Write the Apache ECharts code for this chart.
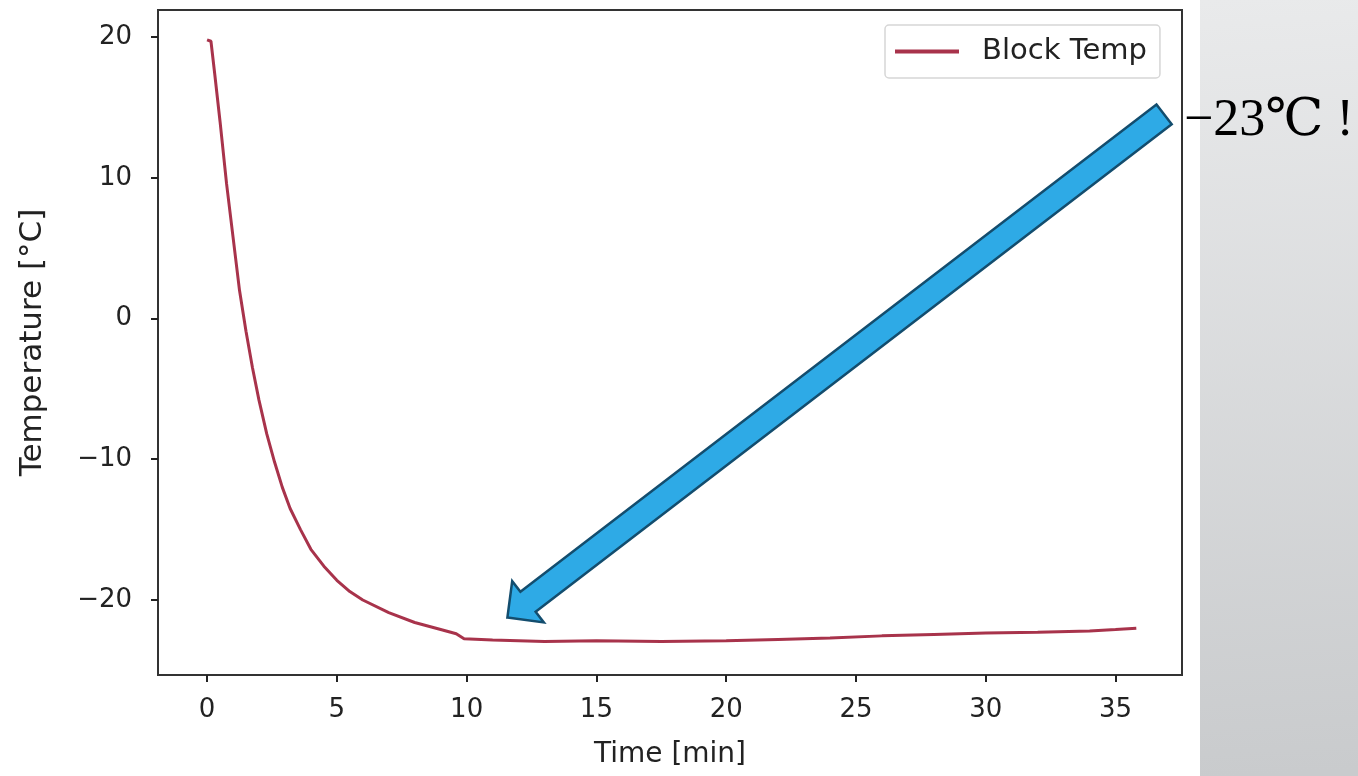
<!DOCTYPE html>
<html>
<head>
<meta charset="utf-8">
<script src="https://cdn.jsdelivr.net/npm/echarts@6/dist/echarts.min.js"></script>
<style>
  html, body { margin: 0; padding: 0; background: #fff; }
  #chart { width: 1358px; height: 776px; }
</style>
</head>
<body>
<div id="chart"></div>
<script>
// block temperature over time
const times = [0, 0.15, 0.3, 0.5, 0.75, 1.0, 1.25, 1.5, 1.75, 2.0, 2.3, 2.6, 2.9, 3.2, 3.6, 4.0, 4.5, 5.0, 5.5, 6.0, 7.0, 8.0, 9.0, 9.6, 9.9, 11.0, 13.0, 15.0, 17.5, 20.0, 22.0, 24.0, 26.0, 28.0, 30.0, 32.0, 34.0, 35.0, 35.8]
const temps = [19.8, 19.7, 17.3, 14.0, 9.6, 5.8, 2.0, -0.9, -3.5, -5.8, -8.2, -10.2, -12.0, -13.5, -15.0, -16.4, -17.6, -18.6, -19.4, -20.0, -20.9, -21.6, -22.1, -22.4, -22.75, -22.85, -22.95, -22.9, -22.95, -22.9, -22.8, -22.7, -22.55, -22.45, -22.35, -22.3, -22.2, -22.1, -22.0]

const xTicks = [0, 5, 10, 15, 20, 25, 30, 35]
const yTicks = [-20, -10, 0, 10, 20]
const xRange = [-1.89, 37.56]
const yRange = [-25.33, 21.92]

// annotation arrow, in data units (tip -> tail)
const arrowTip = [11.57, -21.25]
const arrowTail = [36.87, 14.5]
const calloutText = '\u221223\u2103 !'

const font = "'DejaVu Sans', sans-serif"
const fmt = v => (v < 0 ? '\u2212' + Math.abs(v) : String(v))

const chart = echarts.init(document.getElementById('chart'))

const option = {
  animation: false,
  backgroundColor: '#ffffff',
  grid: {
    left: 158, top: 10, right: 176, bottom: 101,
    show: true, borderColor: '#333', borderWidth: 2, backgroundColor: '#fff'
  },
  legend: {
    left: 885, top: 25,
    padding: [12, 13, 12, 10],
    backgroundColor: '#fff',
    borderColor: '#d6d6d6', borderWidth: 1.5, borderRadius: 4,
    icon: 'rect', itemWidth: 64, itemHeight: 4,
    textStyle: { fontFamily: font, fontSize: 29, color: '#222', padding: [0, 0, 0, 18] },
    data: ['Block Temp']
  },
  xAxis: {
    type: 'value', min: xRange[0], max: xRange[1],
    name: 'Time [min]', nameLocation: 'middle', nameGap: 66,
    nameTextStyle: { fontFamily: font, fontSize: 28, color: '#222' },
    splitLine: { show: false },
    axisLine: { show: true, onZero: false, lineStyle: { color: '#333', width: 2 } },
    axisTick: { show: true, length: 7, lineStyle: { color: '#222', width: 2 }, customValues: xTicks },
    axisLabel: { fontFamily: font, fontSize: 26, color: '#222', margin: 22, customValues: xTicks, formatter: fmt }
  },
  yAxis: {
    type: 'value', min: yRange[0], max: yRange[1],
    name: 'Temperature [\u00b0C]', nameLocation: 'middle', nameGap: 110, nameRotate: 90,
    nameTextStyle: { fontFamily: font, fontSize: 31, color: '#222' },
    splitLine: { show: false },
    axisLine: { show: true, onZero: false, lineStyle: { color: '#333', width: 2 } },
    axisTick: { show: true, length: 7, lineStyle: { color: '#222', width: 2 }, customValues: yTicks },
    axisLabel: { fontFamily: font, fontSize: 26, color: '#222', margin: 26, customValues: yTicks, formatter: fmt }
  },
  series: [{
    name: 'Block Temp',
    type: 'line',
    data: times.map((t, i) => [t, temps[i]]),
    showSymbol: false,
    color: '#A8334B',
    lineStyle: { color: '#A8334B', width: 3 }
  }],
  graphic: [
    {
      id: 'panel', type: 'rect', left: 1200, top: 0, z: -10,
      shape: { width: 158, height: 776 },
      style: {
        fill: new echarts.graphic.LinearGradient(0, 0, 0.3, 1, [
          { offset: 0, color: '#e9eaeb' },
          { offset: 1, color: '#c9cbcd' }
        ])
      }
    },
    {
      id: 'callout', type: 'text', x: 1184, y: 121, z: 100,
      style: {
        text: calloutText,
        font: "52px 'Liberation Serif', 'DejaVu Serif', serif",
        fill: '#000', verticalAlign: 'middle', align: 'left'
      }
    }
  ]
}

chart.setOption(option)

// arrow built from its data anchors
function arrowPoints() {
  const tip = chart.convertToPixel({ gridIndex: 0 }, arrowTip)
  const tail = chart.convertToPixel({ gridIndex: 0 }, arrowTail)
  const dx = tail[0] - tip[0], dy = tail[1] - tip[1]
  const len = Math.sqrt(dx * dx + dy * dy)
  const ux = dx / len, uy = dy / len
  const nx = -uy, ny = ux
  const shaftW = 12.5, headW = 26, headL = 26
  const bx = tip[0] + ux * headL, by = tip[1] + uy * headL
  return [
    tip,
    [bx + nx * headW, by + ny * headW],
    [bx + nx * shaftW, by + ny * shaftW],
    [tail[0] + nx * shaftW, tail[1] + ny * shaftW],
    [tail[0] - nx * shaftW, tail[1] - ny * shaftW],
    [bx - nx * shaftW, by - ny * shaftW],
    [bx - nx * headW, by - ny * headW]
  ]
}

chart.setOption({
  graphic: [{
    id: 'arrow', type: 'polygon', z: 50,
    shape: { points: arrowPoints() },
    style: { fill: '#2eaae6', stroke: '#134d6e', lineWidth: 2.5, lineJoin: 'miter' }
  }]
})
</script>
</body>
</html>
